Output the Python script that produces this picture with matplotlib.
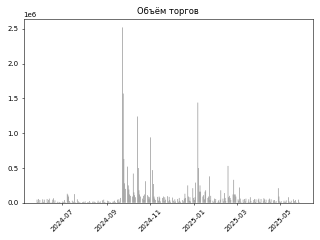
import matplotlib
matplotlib.use("Agg")
import matplotlib.pyplot as plt
import pandas as pd
import numpy as np

# Trading days (Mon-Fri) from 2024-05-27 to 2025-05-27
start_date = "2024-05-27"
end_date = "2025-05-27"

# Daily trading volume, thousands (one row per week, Mon..Fri)
volume_k = [
    45, 10, 55, 5, 40,
    8, 50, 12, 45, 6,
    55, 10, 40, 60, 8,
    12, 45, 65, 6, 35,
    5, 15, 4, 10, 8,
    6, 20, 10, 40, 12,
    130, 115, 90, 25, 8,
    30, 6, 15, 125, 10,
    50, 5, 20, 8, 5,
    10, 4, 15, 6, 20,
    5, 12, 4, 25, 6,
    8, 20, 5, 15, 10,
    6, 30, 5, 8, 20,
    35, 6, 45, 10, 5,
    30, 8, 25, 5, 10,
    6, 20, 8, 30, 10,
    45, 12, 50, 15, 70,
    2520, 1570, 630, 280, 200,
    520, 250, 190, 120, 100,
    90, 420, 150, 110, 80,
    1240, 500, 180, 120, 90,
    60, 100, 40, 120, 310,
    110, 90, 50, 80, 940,
    470, 270, 90, 60, 40,
    85, 30, 90, 75, 20,
    70, 90, 25, 80, 45,
    95, 20, 85, 40, 15,
    75, 30, 10, 50, 20,
    55, 15, 70, 25, 10,
    40, 20, 60, 130, 70,
    250, 90, 30, 80, 20,
    210, 70, 40, 80, 290,
    1440, 500, 160, 250, 160,
    90, 110, 50, 160, 180,
    70, 90, 380, 40, 100,
    30, 10, 60, 20, 55,
    15, 35, 8, 45, 180,
    60, 20, 140, 70, 25,
    530, 80, 100, 70, 40,
    120, 330, 120, 120, 90,
    50, 30, 220, 60, 15,
    45, 10, 55, 20, 60,
    15, 50, 8, 80, 25,
    10, 40, 55, 12, 50,
    45, 60, 15, 8, 55,
    20, 65, 50, 10, 45,
    8, 45, 60, 15, 50,
    35, 12, 40, 6, 25,
    210, 90, 20, 10, 25,
    5, 30, 8, 15, 35,
    80, 20, 6, 10, 30,
    50, 8, 25, 40, 6,
    45, 10,
]

title = "Объём торгов"

dates = pd.bdate_range(start_date, end_date)
volume = np.array(volume_k, dtype=float) * 1000

fig, ax = plt.subplots(figsize=(6.4, 4.8), dpi=50)
bars = ax.bar(dates, volume, color="gray")
for b in bars:
    b.set_snap(False)
ax.set_title(title)
plt.xticks(rotation=45)
fig.tight_layout()
fig.savefig("out.png", dpi=50)
